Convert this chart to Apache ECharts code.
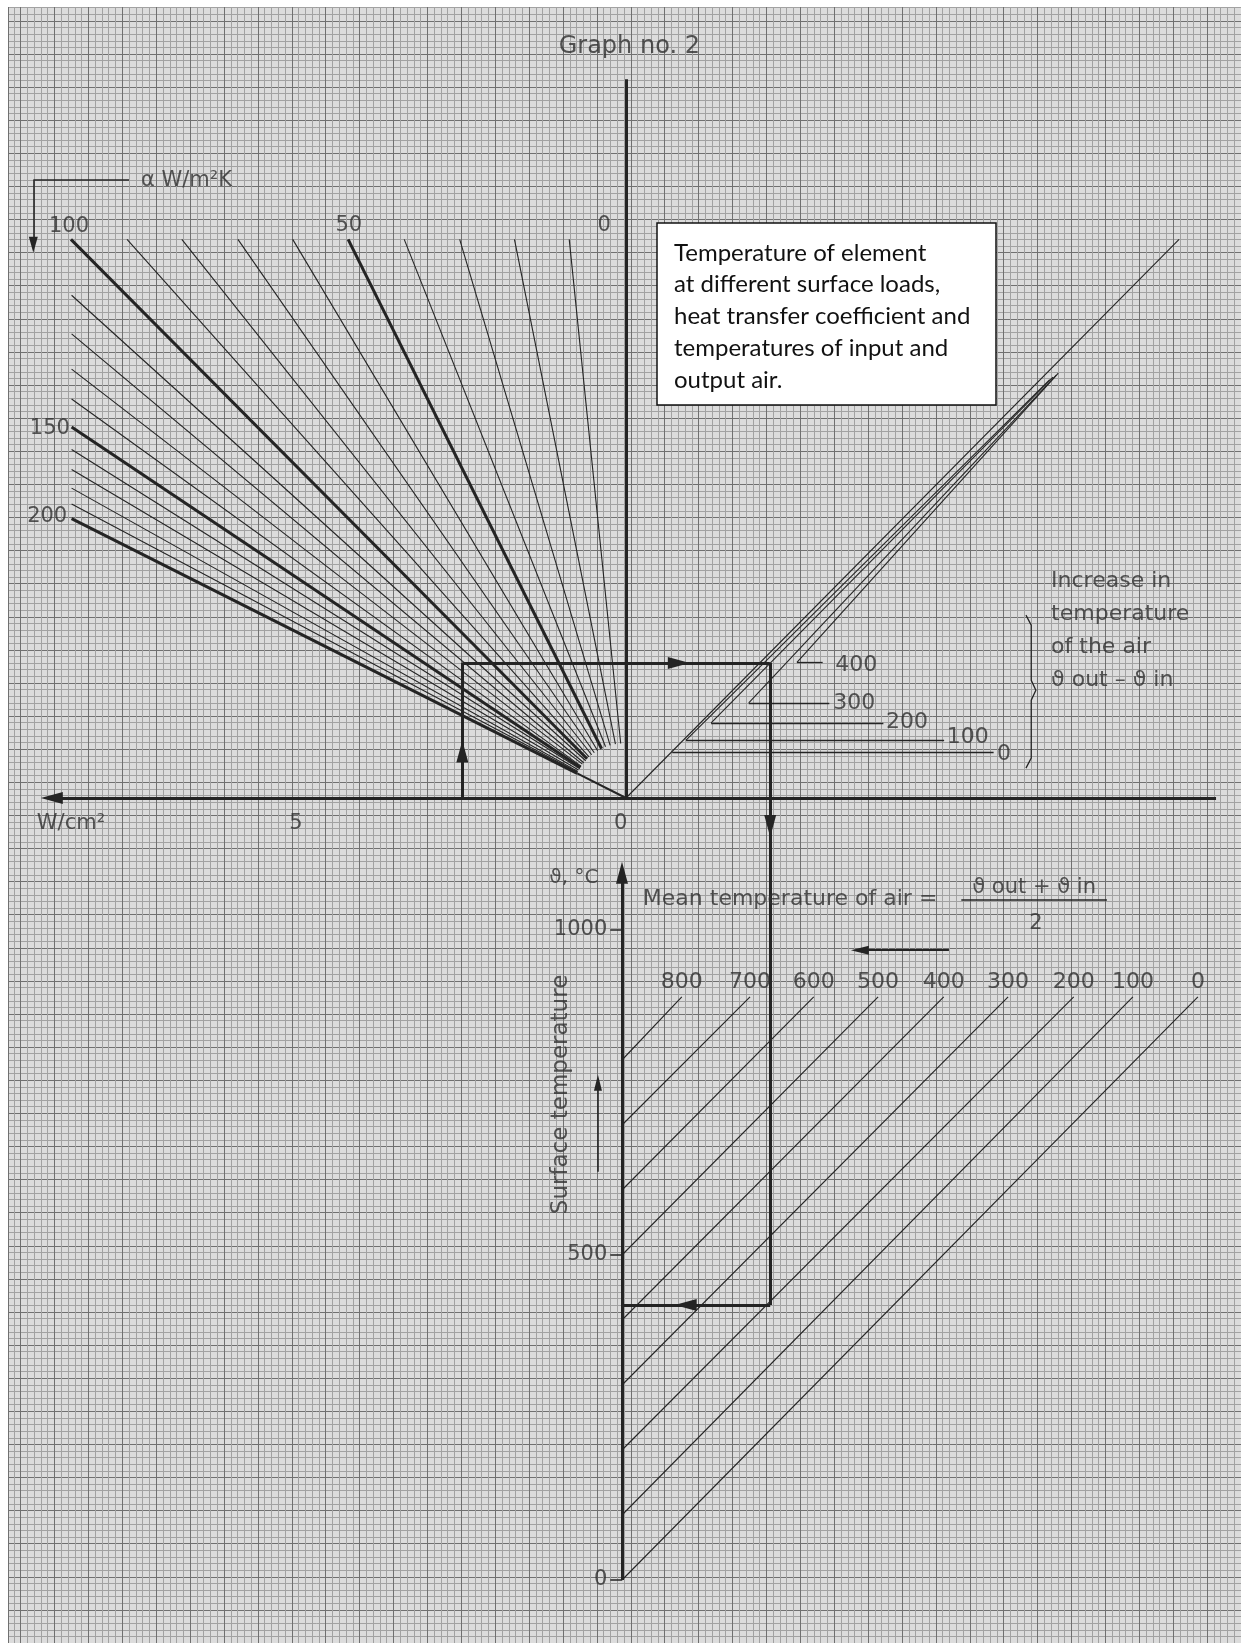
<!DOCTYPE html>
<html><head><meta charset="utf-8">
<script src="https://cdn.jsdelivr.net/npm/echarts@6/dist/echarts.min.js"></script>
<style>html,body{margin:0;padding:0;background:#fff}#c{width:1241px;height:1643px}</style>
</head><body><div id="c"></div>
<script>
// ---------------- data ----------------
// Upper-left quadrant: surface load q (W/cm²) vs. element over-temperature (K), one ray per alpha
const fanAlpha  = [10,20,30,40,50,60,70,80,90,100,110,120,130,140,150,160,170,180,190,200];
const fanOuterQ = [0.86,1.69,2.52,3.36,4.21,5.05,5.88,6.73,7.56,8.41,8.4,8.4,8.4,8.4,8.4,8.4,8.4,8.4,8.4,8.4];
const fanOuterT = [840,840,840,840,840,840,840,840,840,840,756,698,645,600,558,524,494,466,442,420];
const fanInnerQ = [0.08,0.16,0.24,0.31,0.37,0.43,0.48,0.52,0.56,0.59,0.61,0.64,0.66,0.68,0.69,0.70,0.72,0.73,0.74,0.74];
const fanInnerT = [82,81,79,77,74,71,68,65,62,59,56,53,51,48,46,44,42,40,39,37];
const fanBold   = [50,100,150,200];
const alphaLabels = ['100','50','0','150','200'];
const alphaLabelQ = [8.44,4.2,0.33,8.73,8.77];
const alphaLabelT = [859,861,861,556,423];
const loadTickLabels = ['W/cm²','5','0'];
const loadTickPos    = [8.41,5,0.08];

// Upper-right quadrant: increase in air temperature lines
const airRise     = [0,100,200,300,400];
const airStartX   = [0,91,129,186,259];
const airStartT   = [0,87,113,143,204];
const airEndX     = [838,642,647,652,655];
const airEndT     = [840,629,633,636,639];
const airLeaderT  = [69,87,113,143,204];
const airLeaderFrom = [70,91,129,186,259];
const airLeaderTo   = [557,482,390,308,298];
const airLabelX   = [562,486,394,314,317];
const airLabelT   = [65,92,114,143,200];

// Lower chart: mean air temperature lines, surface temperature axis
const meanAir  = [800,700,600,500,400,300,200,100,0];
const meanTopX = [92,197,295,394,495,594,695,786,886];
const meanTopT = [897,897,897,897,897,897,897,897,897];
const surfTicks = [0,500,1000];

// Worked example path
const pathLoad = 2.48;      // W/cm²
const pathRise = 203;       // K element over-temperature
const pathUpperX = 218;     // upper-right reading
const pathLowerX = 228;     // lower chart reading
const pathLowerTop = 1203;  // lower-chart value at the upper x axis
const pathSurface = 423;    // resulting surface temperature

// ---------------- styles ----------------
const INK = '#242424', TXT = '#303030';
const FONT = 'DejaVu Sans';

function seg(a, b, w) { return { coords: [a, b], lineStyle: { width: w, color: INK, opacity: 1 } }; }

const L1 = [], L2 = [], L3 = [];
L1.push(seg([0,0],[0,1081],3));
L1.push(seg([-8.94,0],[8.70,0],3));
fanAlpha.forEach((a,i)=>{
  L1.push(seg([fanInnerQ[i],fanInnerT[i]],[fanOuterQ[i],fanOuterT[i]], fanBold.includes(a)?3:1.1));
});
L1.push(seg([0,0],[fanInnerQ[19],fanInnerT[19]],2));
L1.push(seg([pathLoad,0],[pathLoad,pathRise],3));
L1.push(seg([pathLoad,pathRise],[0,pathRise],3));
L1.push(seg([7.53,929],[8.98,929],1.6));
L1.push(seg([8.98,929],[8.98,836],1.6));

airRise.forEach((d,i)=>{
  L2.push(seg([airStartX[i],airStartT[i]],[airEndX[i],airEndT[i]],1.1));
  L2.push(seg([airLeaderFrom[i],airLeaderT[i]],[airLeaderTo[i],airLeaderT[i]],1.3));
});
L2.push(seg([0,pathRise],[pathUpperX,pathRise],3));
L2.push(seg([pathUpperX,pathRise],[pathUpperX,0],3));

L3.push(seg([0,0],[0,1086],3));
surfTicks.forEach(v=>L3.push(seg([-18,v],[0,v],1.5)));
meanAir.forEach((m,i)=>L3.push(seg([0,m],[meanTopX[i],meanTopT[i]],1.1)));
L3.push(seg([pathLowerX,pathLowerTop],[pathLowerX,pathSurface],3));
L3.push(seg([pathLowerX,pathSurface],[0,pathSurface],3));
L3.push(seg([-37,628],[-37,760],1.6));
L3.push(seg([360,969],[503,969],2));
L3.push(seg([522,1046],[746,1046],1.5));

const brace = [[606,275],[614,260],[614,177],[621,162],[614,147],[614,60],[606,45]];

function linesSeries(xi, yi, data, extra) {
  return Object.assign({ type:'lines', coordinateSystem:'cartesian2d', xAxisIndex:xi, yAxisIndex:yi,
    silent:true, clip:false, z:3, data: data }, extra||{});
}
function labelSeries(xi, yi, items) {
  return { type:'scatter', xAxisIndex:xi, yAxisIndex:yi, symbolSize:0.1, silent:true, clip:false, z:6,
    itemStyle:{ color:'rgba(0,0,0,0)' },
    data: items.map(it=>({ value:[it.x,it.y], label: Object.assign({ show:true, formatter:it.t,
      position: it.pos||'inside', distance: it.dist===undefined?0:it.dist, color:TXT, fontFamily:FONT,
      fontSize: it.fs||23, lineHeight: it.lh||undefined }, it.extra||{}) })) };
}
function arrowSeries(xi, yi, items) {
  return { type:'scatter', xAxisIndex:xi, yAxisIndex:yi, symbol:'triangle', silent:true, clip:false, z:4,
    itemStyle:{ color: INK, opacity: 1 },
    data: items.map(a=>({ value:[a.x,a.y], symbolRotate:a.r, symbolSize:a.s })) };
}

const T1 = [];
alphaLabels.forEach((t,i)=>T1.push({t, x:alphaLabelQ[i], y:alphaLabelT[i], fs:21}));
loadTickLabels.forEach((t,i)=>T1.push({t, x:loadTickPos[i], y:-38, fs:21}));
T1.push({t:'α W/m²K', x:7.35, y:929, pos:'right', fs:21});
T1.push({t:'Graph no. 2', x:-0.05, y:1130, fs:24});

const T2 = [];
airRise.forEach((d,i)=>T2.push({t:String(d), x:airLabelX[i], y:airLabelT[i], pos:'right', fs:22}));
T2.push({t:'Increase in\ntemperature\nof the air\nϑ out – ϑ in', x:644, y:251, pos:'right', fs:22, lh:33});

const T3 = [];
meanAir.forEach((m,i)=>T3.push({t:String(m), x:meanTopX[i], y:meanTopT[i], pos:'top', dist:4, fs:22}));
T3.push({t:'Mean temperature of air =', x:32, y:1048, pos:'right', fs:22});
T3.push({t:'ϑ out + ϑ in', x:634, y:1066, fs:21});
T3.push({t:'2', x:637, y:1010, fs:21});
T3.push({t:'ϑ, °C', x:-74, y:1080, fs:20});
T3.push({t:'Surface temperature', x:-94, y:747, fs:23, extra:{rotate:90}});
surfTicks.forEach(v=>T3.push({t:String(v), x:-18, y:v, pos:'left', dist:3, fs:21}));

const option = {
  backgroundColor:'#ffffff',
  animation:false,
  grid:[
    { left:8, top:7, width:1233, height:1636, show:true, backgroundColor:'#dcdcdc', borderWidth:0 },
    { left:0, top:66.5, width:1241, height:731.5, show:false },
    { left:0, top:735, width:1241, height:845, show:false }
  ],
  xAxis:[
    { gridIndex:0, type:'value', min:0, max:181.86, interval:5, inverse:true, axisLine:{show:false}, axisTick:{show:false}, axisLabel:{show:false},
      splitLine:{show:true, lineStyle:{color:'#707070', width:1}},
      minorTick:{show:true, splitNumber:5, length:0}, minorSplitLine:{show:true, lineStyle:{color:'#a2a2a2', width:1}} },
    { gridIndex:1, type:'value', min:-9.3182, max:9.4848, inverse:true, show:false },
    { gridIndex:1, type:'value', min:-948.48, max:931.82, position:'top', show:false },
    { gridIndex:2, type:'value', min:-956.92, max:952.31, show:false }
  ],
  yAxis:[
    { gridIndex:0, type:'value', min:0, max:247.1, interval:5, axisLine:{show:false}, axisTick:{show:false}, axisLabel:{show:false},
      splitLine:{show:true, lineStyle:{color:'#707070', width:1}},
      minorTick:{show:true, splitNumber:5, length:0}, minorSplitLine:{show:true, lineStyle:{color:'#a2a2a2', width:1}} },
    { gridIndex:1, type:'value', min:0, max:1100, show:false },
    { gridIndex:2, type:'value', min:0, max:1300, show:false }
  ],
  graphic:[
    { type:'rect', shape:{x:657,y:223,width:339,height:182}, style:{fill:'#fff', stroke:'#111', lineWidth:1.5}, z:20 },
    { type:'text', x:674, y:237, z:21, style:{ text:'Temperature of element\nat different surface loads,\nheat transfer coefficient and\ntemperatures of input and\noutput air.',
      fontFamily:'Lato', fontSize:24, fill:'#111', lineHeight:31.8, verticalAlign:'top' } }
  ],
  series:[
    linesSeries(1,1,L1),
    linesSeries(2,1,L2),
    linesSeries(2,1,[{coords:brace, lineStyle:{width:1.3, color:INK, opacity:1}}], {polyline:true}),
    linesSeries(3,2,L3),
    arrowSeries(1,1,[{x:pathLoad,y:70,r:0,s:[12,22]},{x:8.70,y:0,r:90,s:[12,22]},{x:8.98,y:832,r:180,s:[9,16]}]),
    arrowSeries(2,1,[{x:80,y:pathRise,r:-90,s:[12,22]}]),
    arrowSeries(3,2,[{x:pathLowerX,y:1160,r:180,s:[12,22]},{x:98,y:pathSurface,r:90,s:[12,22]},
                     {x:0,y:1088,r:0,s:[12,22]},{x:-37,y:765,r:0,s:[8,16]},{x:366,y:969,r:90,s:[9,18]}]),
    labelSeries(1,1,T1),
    labelSeries(2,1,T2),
    labelSeries(3,2,T3)
  ]
};
const chart = echarts.init(document.getElementById('c'));
chart.setOption(option);
</script></body></html>
